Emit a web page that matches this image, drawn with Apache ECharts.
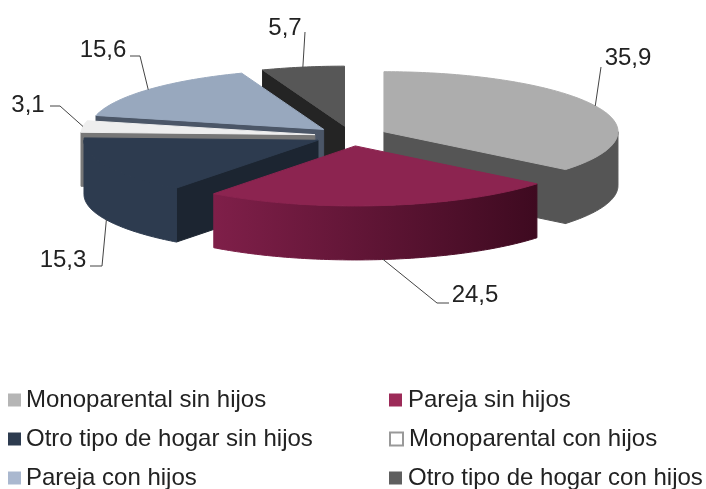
<!DOCTYPE html>
<html>
<head>
<meta charset="utf-8">
<title>Hogares</title>
<script src="https://cdn.jsdelivr.net/npm/echarts@6/dist/echarts.min.js"></script>
<style>
  html, body { margin: 0; background: #fff; }
  #chart { width: 706px; height: 489px; }
</style>
</head>
<body>
<div id="chart"></div>
<script>
const categories = ['Monoparental sin hijos', 'Pareja sin hijos', 'Otro tipo de hogar sin hijos', 'Monoparental con hijos', 'Pareja con hijos', 'Otro tipo de hogar con hijos'];
const values = [35.9, 24.5, 15.3, 3.1, 15.6, 5.7];

// colores de cada cara
const topColors = ['#adadad', '#8c2450', '#2d3b4f', '#eeeeee', '#98a8be', '#575757'];
const sideColors = ['#555555', '#5a1233', '#1c2531', '#777777', '#4b5667', '#242424'];
const wallColors = [['#555555', '#555555'], ['#7f1f49', '#3e0a20'], ['#2d3b4f', '#2d3b4f'], ['#8a8a8a', '#8a8a8a'], ['#6d7a8c', '#6d7a8c'], ['#444444', '#444444']];
const legendColors = ['#b5b5b5', '#9c2a58', '#2d3b4f', '#ffffff', '#aab8cf', '#5f5f5f'];

// geometria del pastel
const centerX = 351, centerY = 136;
const radiusX = 234, radiusY = 60, depth = 54;
const explodeX = 36.5, explodeY = 10;

// lineas guia: codo(s) y posicion del texto
const leaderBends = [[[601, 67]], [[437, 303], [449, 303]], [[102, 266], [90, 266]], [[60, 106], [50, 106]], [[140, 56], [130, 56]], [[305, 32]]];
const labelPos = [[628, 58], [475, 295], [63, 260], [28, 105], [103, 50], [285, 28]];
const legendPos = [[8, 388], [389, 388], [8, 427], [389, 427], [8, 466], [389, 466]];

const total = values.reduce((a, b) => a + b, 0);
const startAngles = [];
values.reduce((acc, v, i) => { startAngles[i] = acc; return acc + v; }, 0);
const toRad = (v) => (v / total) * Math.PI * 2;

const renderSlice = (i) => (params, api) => {
  const a0 = toRad(startAngles[i]);
  const a1 = a0 + toRad(api.value(0));
  const mid = (a0 + a1) / 2;
  const ax = centerX + explodeX * Math.sin(mid);
  const ay = centerY - explodeY * Math.cos(mid);
  const rim = (a, dz) => [ax + radiusX * Math.sin(a), ay - radiusY * Math.cos(a) + (dz || 0)];

  const arc = (from, to, dz) => {
    const pts = [];
    const n = Math.max(2, Math.ceil(Math.abs(to - from) * 60));
    for (let k = 0; k <= n; k++) pts.push(rim(from + ((to - from) * k) / n, dz));
    return pts;
  };

  const children = [];
  const face = (points, fill, stroke) => children.push({
    type: 'polygon',
    shape: { points },
    style: { fill, stroke: stroke || fill, lineWidth: 1 },
  });

  // caras de corte visibles
  if (Math.sin(a1) > 0) face([[ax, ay], rim(a1), rim(a1, depth), [ax, ay + depth]], sideColors[i]);
  if (Math.sin(a0) < 0) face([[ax, ay], rim(a0), rim(a0, depth), [ax, ay + depth]], sideColors[i]);

  // pared exterior, solo la mitad delantera
  const w0 = Math.max(a0, Math.PI / 2);
  const w1 = Math.min(a1, (Math.PI * 3) / 2);
  if (w1 > w0) {
    const fill = new echarts.graphic.LinearGradient(0, 0, 1, 0, [
      { offset: 0, color: wallColors[i][0] },
      { offset: 1, color: wallColors[i][1] },
    ]);
    face([...arc(w0, w1, 0), ...arc(w1, w0, depth)], fill);
  }

  // tapa
  face([[ax, ay], ...arc(a0, a1, 0)], topColors[i]);

  // linea guia, sale del centro del arco
  const onWall = mid > Math.PI / 2 && mid < (Math.PI * 3) / 2;
  children.push({
    type: 'polyline',
    shape: { points: [rim(mid, onWall ? depth : 0), ...leaderBends[i]] },
    style: { fill: 'none', stroke: '#444444', lineWidth: 1 },
  });
  children.push({
    type: 'text',
    style: {
      text: api.value(0).toFixed(1).replace('.', ','),
      x: labelPos[i][0],
      y: labelPos[i][1],
      align: 'center',
      verticalAlign: 'middle',
      fill: '#222222',
      font: '24px "Liberation Sans", Arial, sans-serif',
    },
  });
  return { type: 'group', children };
};

// orden de dibujo: de atras hacia adelante
const drawOrder = [5, 4, 3, 2, 0, 1];

const chart = echarts.init(document.getElementById('chart'), null, { renderer: 'canvas' });
chart.setOption({
  animation: false,
  backgroundColor: '#ffffff',
  legend: categories.map((name, i) => ({
    data: [{
      name,
      icon: 'rect',
      itemStyle: i === 3
        ? { color: '#ffffff', borderColor: '#999999', borderWidth: 2 }
        : { color: legendColors[i], borderWidth: 0 },
    }],
    left: legendPos[i][0],
    top: legendPos[i][1],
    padding: 0,
    itemWidth: 13,
    itemHeight: 13,
    itemGap: 0,
    selectedMode: false,
    textStyle: {
      color: '#222222',
      fontSize: 24,
      fontFamily: '"Liberation Sans", Arial, sans-serif',
      padding: [0, 0, 0, i % 2 ? 1 : 0],
    },
  })),
  series: drawOrder.map((i) => ({
    type: 'custom',
    name: categories[i],
    coordinateSystem: 'none',
    silent: true,
    itemStyle: { color: legendColors[i] },
    data: [[values[i]]],
    renderItem: renderSlice(i),
  })),
});
</script>
</body>
</html>
